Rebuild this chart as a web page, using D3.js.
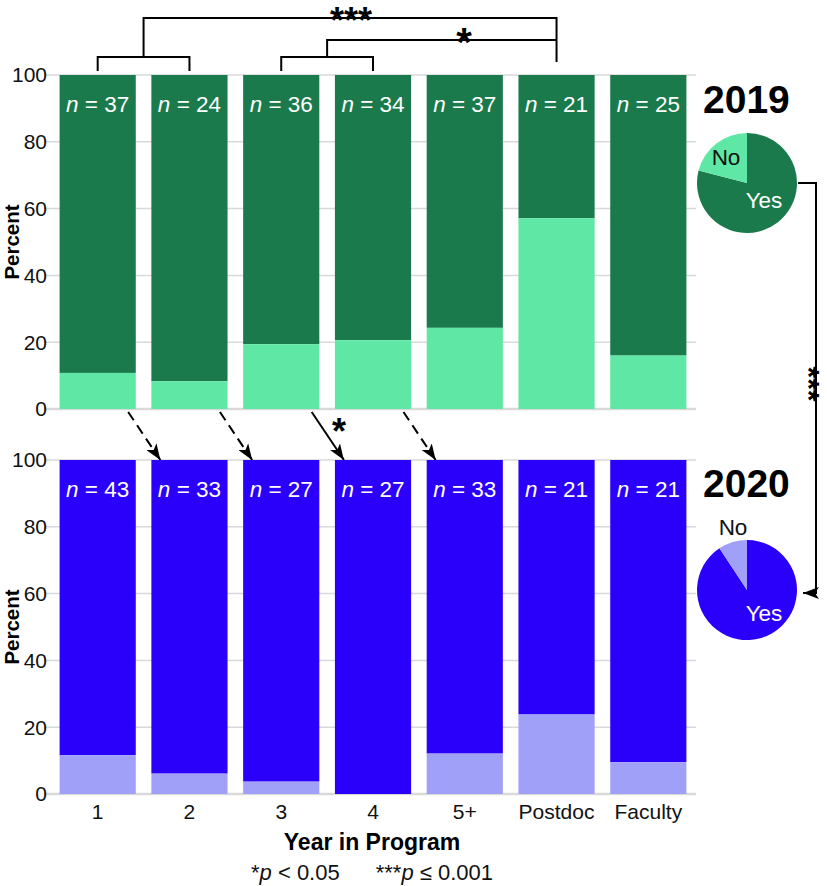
<!DOCTYPE html>
<html>
<head>
<meta charset="utf-8">
<script src="https://cdn.jsdelivr.net/npm/d3@7"></script>
<style>
  html, body { margin: 0; padding: 0; background: #fff; }
  svg { display: block; font-family: "Liberation Sans", Arial, sans-serif; }
</style>
</head>
<body>
<svg id="chart" width="827" height="886"></svg>
<script>
// ---------- data ----------
const categories = ["1", "2", "3", "4", "5+", "Postdoc", "Faculty"];
const n2019 = [37, 24, 36, 34, 37, 21, 25];
const no2019 = [10.8, 8.3, 19.4, 20.6, 24.3, 57.1, 16.0];   // percent "No"
const n2020 = [43, 33, 27, 27, 33, 21, 21];
const no2020 = [11.6, 6.1, 3.7, 0, 12.1, 23.8, 9.5];      // percent "No"
const pie2019 = [{ label: "Yes", value: 79.0 }, { label: "No", value: 21.0 }];
const pie2020 = [{ label: "Yes", value: 90.7 }, { label: "No", value: 9.3 }];
const yTicks = [0, 20, 40, 60, 80, 100];
const yearLabels = ["2019", "2020"];
// comparisons across years (from bar i in 2019 to bar i+1 in 2020)
const transitions = [
  { from: "1", to: "2", sig: false },
  { from: "2", to: "3", sig: false },
  { from: "3", to: "4", sig: true },
  { from: "4", to: "5+", sig: false }
];

// ---------- setup ----------
const svg = d3.select("#chart");
const colors = {
  yes2019: "#1a7a4c", no2019: "#5fe8a5",
  yes2020: "#2b00fa", no2020: "#a0a0f8",
  grid: "#d9d9d9"
};

const x = d3.scaleBand().domain(categories).range([44, 702]).paddingInner(0.17).paddingOuter(0.17);
const yTop = d3.scaleLinear().domain([0, 100]).range([409, 75]);
const yBot = d3.scaleLinear().domain([0, 100]).range([794, 460]);

// arrow markers
const defs = svg.append("defs");
defs.append("marker")
  .attr("id", "arrow")
  .attr("viewBox", "0 0 16 12")
  .attr("refX", 16).attr("refY", 6)
  .attr("markerWidth", 16).attr("markerHeight", 12)
  .attr("markerUnits", "userSpaceOnUse")
  .attr("orient", "auto")
  .append("path").attr("d", "M0,0 L16,6 L0,12 L4,6 Z").attr("fill", "#000");

function panel(y, noVals, nVals, cYes, cNo, yLabelY) {
  const g = svg.append("g");
  // gridlines
  g.selectAll("line.grid").data(yTicks).join("line")
    .attr("x1", x.range()[0]).attr("x2", x.range()[1] - 6)
    .attr("y1", d => y(d)).attr("y2", d => y(d))
    .attr("stroke", colors.grid).attr("stroke-width", d => d === 0 ? 2.5 : 1.5);
  // tick labels
  g.selectAll("text.tick").data(yTicks).join("text")
    .attr("x", 47).attr("y", d => y(d)).attr("dy", "0.35em")
    .attr("text-anchor", "end").attr("font-size", 21).attr("fill", "#111")
    .text(d => d);
  // Yes bars (full 100)
  g.selectAll("rect.yes").data(categories).join("rect")
    .attr("x", d => x(d)).attr("width", x.bandwidth())
    .attr("y", (d, i) => y(100)).attr("height", (d, i) => y(noVals[i]) - y(100))
    .attr("fill", cYes);
  // No bars
  g.selectAll("rect.no").data(categories).join("rect")
    .attr("x", d => x(d)).attr("width", x.bandwidth())
    .attr("y", (d, i) => y(noVals[i])).attr("height", (d, i) => y(0) - y(noVals[i]))
    .attr("fill", cNo);
  // n labels
  const t = g.selectAll("text.n").data(categories).join("text")
    .attr("x", d => x(d) + x.bandwidth() / 2).attr("y", y(100) + 37)
    .attr("text-anchor", "middle").attr("font-size", 22.5).attr("fill", "#fff");
  t.append("tspan").attr("font-style", "italic").text("n");
  t.append("tspan").text((d, i) => " = " + nVals[i]);
  // y label
  g.append("text")
    .attr("transform", `translate(19,${yLabelY}) rotate(-90)`)
    .attr("text-anchor", "middle").attr("font-size", 20.5).attr("font-weight", "bold")
    .text("Percent");
}

panel(yTop, no2019, n2019, colors.yes2019, colors.no2019, 242);
panel(yBot, no2020, n2020, colors.yes2020, colors.no2020, 627);

// x-axis tick labels
svg.selectAll("text.xt").data(categories).join("text")
  .attr("x", d => x(d) + x.bandwidth() / 2).attr("y", 819)
  .attr("text-anchor", "middle").attr("font-size", 21).attr("fill", "#111")
  .text(d => d);

svg.append("text").attr("x", 372).attr("y", 850)
  .attr("text-anchor", "middle").attr("font-size", 23).attr("font-weight", "bold")
  .text("Year in Program");

const fn = svg.append("text").attr("x", 372).attr("y", 880)
  .attr("text-anchor", "middle").attr("font-size", 22).attr("fill", "#111");
fn.append("tspan").text("*");
fn.append("tspan").attr("font-style", "italic").text("p");
fn.append("tspan").text(" < 0.05");
fn.append("tspan").attr("dx", 36).text("***");
fn.append("tspan").attr("font-style", "italic").text("p");
fn.append("tspan").text(" \u2264 0.001");

// year titles
svg.selectAll("text.year").data(yearLabels).join("text")
  .attr("x", 703).attr("y", (d, i) => i === 0 ? 113 : 497)
  .attr("font-size", 39).attr("font-weight", "bold")
  .text(d => d);

// pies
const pieGen = d3.pie().value(d => d.value).sort(null);
const arc = d3.arc().innerRadius(0).outerRadius(50);
function drawPie(data, cx, cy, cYes, cNo, labelPos) {
  const g = svg.append("g").attr("transform", `translate(${cx},${cy})`);
  g.selectAll("path").data(pieGen(data)).join("path")
    .attr("d", arc).attr("fill", d => d.data.label === "Yes" ? cYes : cNo);
  labelPos.forEach(p => {
    g.append("text").attr("x", p.x).attr("y", p.y).attr("text-anchor", "middle")
      .attr("font-size", 22.5).attr("fill", p.c).text(p.t);
  });
}
drawPie(pie2019, 747, 183, colors.yes2019, colors.no2019,
  [{ t: "No", x: -21, y: -18, c: "#111" }, { t: "Yes", x: 17, y: 25, c: "#fff" }]);
drawPie(pie2020, 747, 590, colors.yes2020, colors.no2020,
  [{ t: "No", x: -14, y: -55, c: "#111" }, { t: "Yes", x: 17, y: 31, c: "#fff" }]);

// right bracket between pies
svg.append("path")
  .attr("d", `M798,183 H816 V593 H803`)
  .attr("fill", "none").attr("stroke", "#000").attr("stroke-width", 2)
  .attr("marker-end", "url(#arrow)");
svg.append("text")
  .attr("transform", "translate(799,384) rotate(90)")
  .attr("text-anchor", "middle").attr("font-size", 30).attr("font-weight", "bold")
  .text("***");

// top brackets
const cx = c => x(c) + x.bandwidth() / 2;
const br = svg.append("g").attr("fill", "none").attr("stroke", "#000").attr("stroke-width", 2);
br.append("path").attr("d", `M${cx("1")},71 V57 H${cx("2")} V71`);
br.append("path").attr("d", `M${cx("3")},71 V57 H${cx("4")} V71`);
const midA = (cx("1") + cx("2")) / 2, midB = (cx("3") + cx("4")) / 2;
br.append("path").attr("d", `M${midA},57 V18 H${cx("Postdoc")} V62`);
br.append("path").attr("d", `M${midB},57 V40 H${cx("Postdoc")}`);
svg.append("text").attr("x", 351).attr("y", 33)
  .attr("text-anchor", "middle").attr("font-size", 36).attr("font-weight", "bold").text("***");
svg.append("text").attr("x", 464).attr("y", 56)
  .attr("text-anchor", "middle").attr("font-size", 40).attr("font-weight", "bold").text("*");

// arrows between years
const ar = svg.append("g");
transitions.forEach(tr => {
  const x1 = x(tr.from) + x.bandwidth() * 0.9, y1 = yTop(0) + 3;
  const x2 = x(tr.to) + 9, y2 = yBot(100);
  ar.append("line").attr("x1", x1).attr("y1", y1).attr("x2", x2).attr("y2", y2)
    .attr("stroke", "#000").attr("stroke-width", 2)
    .attr("stroke-dasharray", tr.sig ? null : "10,6")
    .attr("marker-end", "url(#arrow)");
  if (tr.sig) {
    svg.append("text").attr("x", x2 - 5).attr("y", y1 + 32)
      .attr("text-anchor", "middle").attr("font-size", 36).attr("font-weight", "bold").text("*");
  }
});
</script>
</body>
</html>
